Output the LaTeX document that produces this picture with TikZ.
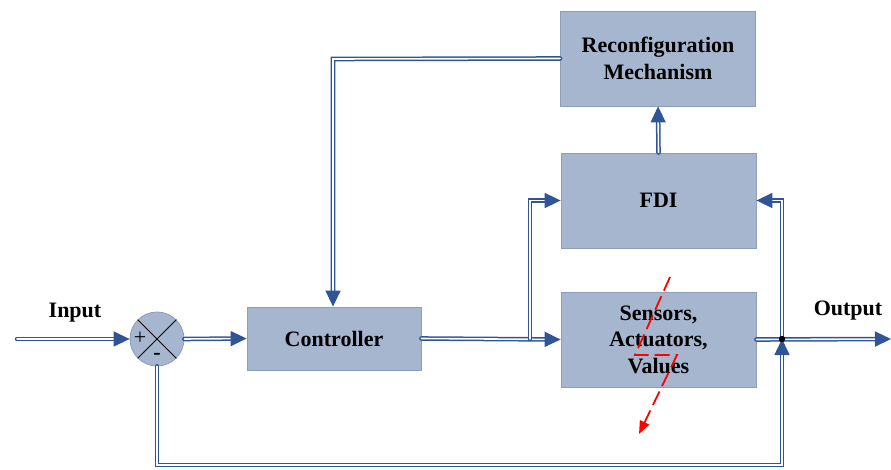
\documentclass[tikz,border=0pt]{standalone}
\usepackage{fontspec}
\setmainfont{Liberation Serif}
\usetikzlibrary{arrows.meta}
\definecolor{boxfill}{RGB}{166,182,207}
\definecolor{boxedge}{RGB}{140,158,186}
\definecolor{lineblue}{RGB}{47,85,151}
\begin{document}
\begin{tikzpicture}[x=1pt,y=-1pt,
  blockbox/.style={draw=boxedge, fill=boxfill, line width=0.8pt, inner sep=0pt,
    align=center, font=\fontsize{22}{26.5}\selectfont\bfseries},
  dbl/.style={draw=lineblue, double=white, double distance=1.6pt, line width=1.5pt,
    line cap=round, line join=miter},
  tip/.style={-{Triangle[length=16pt,width=15pt]}},
  lbl/.style={font=\fontsize{22}{26.5}\selectfont\bfseries, inner sep=0pt},
]
\useasboundingbox (0,0) rectangle (891,470);

\node[blockbox, minimum width=195pt, minimum height=95pt] (rec) at (658,58.5) {Reconfiguration\\Mechanism};
\node[blockbox, minimum width=195pt, minimum height=95pt] (fdi) at (658.5,200.5) {FDI};
\node[blockbox, minimum width=195pt, minimum height=95pt] (sen) at (658.5,339.5) {Sensors,\\Actuators,\\Values};
\node[blockbox, minimum width=174pt, minimum height=63pt] (ctl) at (334,338.5) {Controller};
\node[circle, draw=boxedge, fill=boxfill, line width=0.8pt, minimum size=54pt, inner sep=0pt] (sum) at (157,339) {};
\draw[black, line width=1pt] (sum.north west) -- (sum.south east) (sum.north east) -- (sum.south west);
\node[font=\fontsize{22}{24}\selectfont, inner sep=0pt] (plus) at (140,338) {+};
\node[font=\fontsize{22}{24}\selectfont\bfseries, inner sep=0pt] (minus) at (157,356) {-};

\node[lbl] (inlbl) at (75,313) {Input};
\node[lbl] (outlbl) at (848,311) {Output};

\coordinate (inp) at (17,339);
\coordinate (outp) at (891,339);
\coordinate (br) at (530,339);
\coordinate (j) at (782,339);
\coordinate (fbL) at (157,465);
\coordinate (fbR) at (782,465);

% main path
\draw[dbl, tip] (inp) -- (sum.west);
\draw[dbl, tip] (sum.east) -- (ctl.west);
\draw[dbl, tip] (ctl.east) -- (sen.west);
\draw[dbl, tip] (br) -- (br |- fdi.west) -- (fdi.west);
\draw[dbl, tip] (sen.east) -- (outp);
\draw[dbl, tip] (j) -- (j |- fdi.east) -- (fdi.east);
\draw[dbl, tip] (sum.south) -- (fbL) -- (fbR) -- (j);
\draw[dbl, tip] (rec.west) -- (333,59) -- (ctl.north -| 333,0);
\draw[dbl, tip] (fdi.north) -- (rec.south);
\fill[black] (j) circle (3.2pt);

% fault arrow
\coordinate (f1) at (670,277);
\coordinate (f2) at (635,355);
\coordinate (f3) at (677,355);
\coordinate (f4) at (639,434);
\draw[red, line width=1.8pt, dash pattern=on 15pt off 6pt, -{Triangle[length=13pt,width=10pt]}] (f1) -- (f2) -- (f3) -- (f4);
\end{tikzpicture}
\end{document}
